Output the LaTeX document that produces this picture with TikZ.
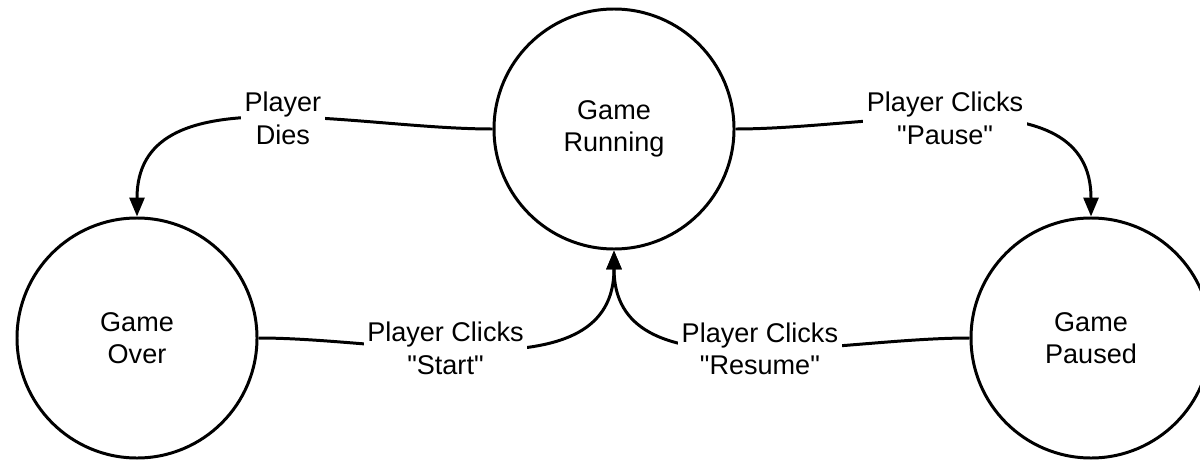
\documentclass[tikz,border=0pt]{standalone}
\usepackage{fontspec}
\setmainfont{Liberation Sans}
\usepackage{tikz}
\usetikzlibrary{arrows.meta,positioning}

\begin{document}
\begin{tikzpicture}[
  gstate/.style={draw, circle, line width=1.7pt, minimum size=4.8cm, align=center, font=\fontsize{15.4}{18.5}\selectfont},
  lbl/.style={fill=white, inner sep=2pt, align=center, font=\fontsize{15.4}{18.5}\selectfont},
  arr/.style={-{Triangle[length=0.38cm,width=0.3cm]}, line width=1.7pt}
]
\useasboundingbox (0,0) rectangle (24,9.26);
\node[gstate] (running) at (12.28,6.68) {Game\\Running};
\node[gstate] (over) at (2.74,2.50) {Game\\Over};
\node[gstate] (paused) at (21.82,2.50) {Game\\Paused};

\draw[arr] (running.west) to[out=180,in=90] node[lbl, pos=0.45]{Player\\Dies} (over.north);
\draw[arr] (running.east) to[out=0,in=90] node[lbl, pos=0.45]{Player Clicks\\\textquotedbl Pause\textquotedbl} (paused.north);
\draw[arr] (over.east) to[out=0,in=-90] node[lbl, pos=0.4]{Player Clicks\\\textquotedbl Start\textquotedbl} (running.south);
\draw[arr] (paused.west) to[out=180,in=-90] node[lbl, pos=0.45]{Player Clicks\\\textquotedbl Resume\textquotedbl} (running.south);
\end{tikzpicture}
\end{document}
